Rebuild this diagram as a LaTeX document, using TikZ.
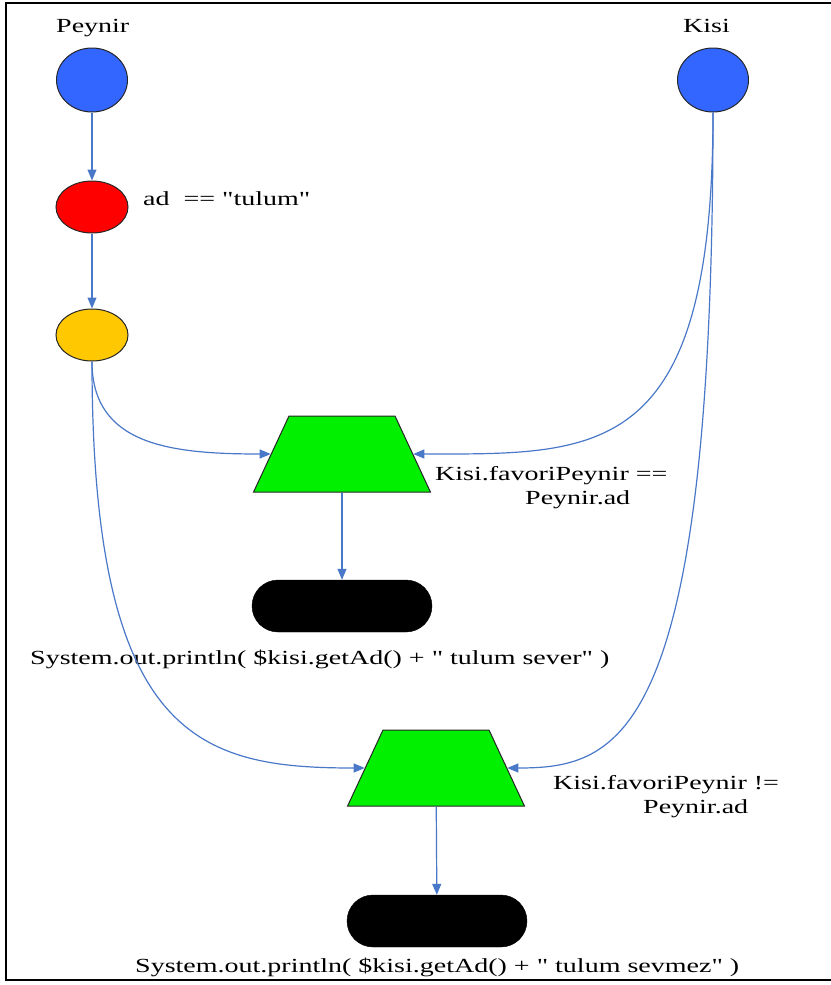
\documentclass[tikz,border=0pt]{standalone}
\usepackage{fontspec}
\newfontfamily\labelfont{Liberation Serif}[FakeStretch=1.4]
\usetikzlibrary{shapes.geometric,shapes.misc,arrows.meta}
\definecolor{flowblue}{HTML}{4A78C8}
\definecolor{startblue}{HTML}{3366FF}
\definecolor{filterred}{HTML}{FF0000}
\definecolor{joinyellow}{HTML}{FFC800}
\definecolor{condgreen}{HTML}{00F000}
\begin{document}
\begin{tikzpicture}[x=1pt,y=-1pt,
  every node/.style={font=\labelfont\fontsize{20}{24}\selectfont},
  objnode/.style={ellipse, draw=black!85, line width=1pt, minimum width=72pt, minimum height=52pt, inner sep=0pt},
  condnode/.style={trapezium, trapezium angle=65, draw=black!85, line width=1pt, fill=condgreen, inner xsep=53pt, inner ysep=38pt},
  actnode/.style={rounded rectangle, fill=black, draw=black, minimum width=180pt, minimum height=52pt, inner sep=0pt},
  flow/.style={draw=flowblue, line width=1.2pt, -{Triangle[length=11pt,width=9pt]}},
  txt/.style={inner sep=0pt, anchor=base west}
]
\useasboundingbox (0,0) rectangle (830,985);
% frame
\draw[line width=2pt] (840,3) -- (6,3) -- (6,980) -- (840,980);

% fact types
\node[txt] (peynirlbl) at (56,32) {Peynir};
\node[txt] (kisilbl) at (683,32) {Kisi};
\node[objnode, fill=startblue, minimum width=71pt, minimum height=64pt] (peynir) at (92,80) {};
\node[objnode, fill=startblue, minimum width=71pt, minimum height=64pt] (kisi) at (713,80) {};

% alpha filter and join
\node[objnode, fill=filterred] (filter) at (92,207) {};
\node[txt] (filterlbl) at (143,205) {ad\ \ == "tulum"};
\node[objnode, fill=joinyellow] (join) at (92,335) {};

% conditions
\node[condnode] (eq) at (342,454) {};
\node[txt] (eqlbl1) at (435,480) {Kisi.favoriPeynir ==};
\node[txt] (eqlbl2) at (525,504) {Peynir.ad};
\node[condnode] (neq) at (436,768) {};
\node[txt] (neqlbl1) at (553,789) {Kisi.favoriPeynir !=};
\node[txt] (neqlbl2) at (643,813) {Peynir.ad};

% actions
\node[actnode] (act1) at (342,606) {};
\node[txt] (act1lbl) at (30,664) {System.out.println( \$kisi.getAd() + " tulum sever" )};
\node[actnode] (act2) at (437,921) {};
\node[txt] (act2lbl) at (135,972) {System.out.println( \$kisi.getAd() + " tulum sevmez" )};

% connectors
\draw[flow] (peynir) -- (filter);
\draw[flow] (filter) -- (join);
\draw[flow] (join.south) .. controls (92,445) and (170,454) .. (eq.left side);
\draw[flow] (kisi.south) .. controls (713,460) and (600,454) .. (eq.right side);
\draw[flow] (eq) -- (act1);
\draw[flow] (join.south) .. controls (92,740) and (200,768) .. (neq.left side);
\draw[flow] (kisi.south) .. controls (713,740) and (620,768) .. (neq.right side);
\draw[flow] (neq) -- (act2);
\end{tikzpicture}
\end{document}
